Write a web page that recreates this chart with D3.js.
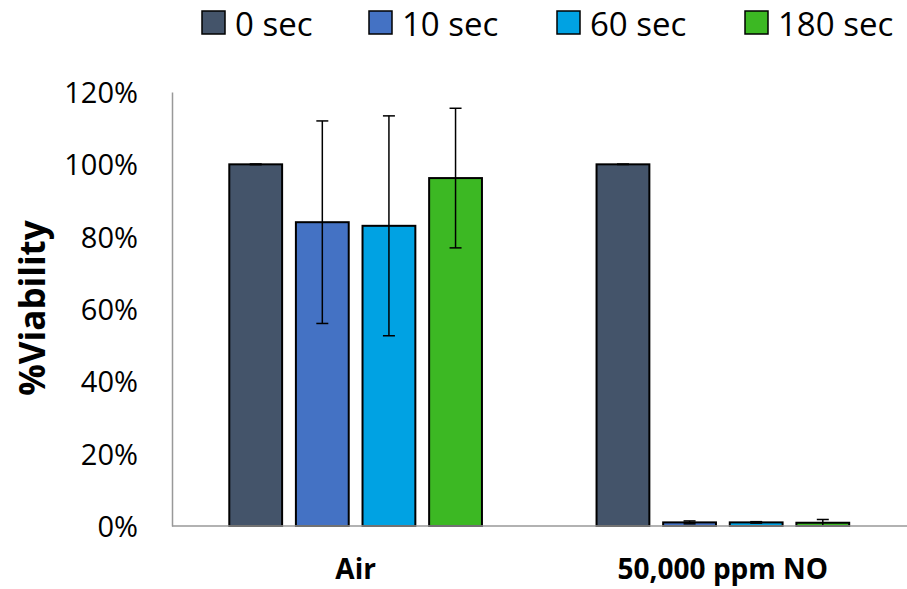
<!DOCTYPE html>
<html>
<head>
<meta charset="utf-8">
<script src="https://cdn.jsdelivr.net/npm/d3@7"></script>
<style>
  body { margin: 0; background: #fff; }
  svg text { font-family: "Open Sans", "Noto Sans", sans-serif; fill: #000; }
</style>
</head>
<body>
<svg id="main_svg"></svg>
<script>
const WIDTH = 907;
const HEIGHT = 589;

const categories = ['Air', '50,000 ppm NO'];
const series = ['0 sec', '10 sec', '60 sec', '180 sec'];
const colors = ['#44546A', '#4472C4', '#00A2E3', '#3CB823'];
// mean viability (%) per series, one entry per category
const means = [
	[100, 100],
	[84, 1.0],
	[83, 1.0],
	[96.2, 0.9]
];
const errors = [
	[0.1, 0.05],
	[28, 0.4],
	[30.4, 0.2],
	[19.3, 0.9]
];
const y_ticks = [0, 20, 40, 60, 80, 100, 120];

const margin = {left: 172, right: 0, top: 92, bottom: 63};

const svg = d3.select('#main_svg').attr('width', WIDTH).attr('height', HEIGHT);

const x_scale = d3.scaleBand()
	.domain(categories)
	.range([margin.left, WIDTH - 0.5])
	.paddingInner(0)
	.paddingOuter(0);

const x_inner = d3.scaleBand()
	.domain(series)
	.range([0, x_scale.bandwidth()])
	.paddingInner(0.207)
	.paddingOuter(0.86);

const y_scale = d3.scaleLinear()
	.domain([0, 120])
	.range([HEIGHT - margin.bottom, margin.top]);

// y axis
const y_axis = svg.append('g')
	.attr('transform', `translate(${margin.left},0)`)
	.call(d3.axisLeft(y_scale).tickValues(y_ticks).tickSize(0).tickPadding(34).tickFormat(d => d + '%'));
y_axis.select('.domain').attr('stroke', '#999').attr('stroke-width', 1.5);
y_axis.selectAll('text').attr('font-size', '29px').attr('dy', '0.36em').style('font-family', '"Open Sans", sans-serif');

// bars
series.forEach((s, si) => {
	const g = svg.append('g');
	const data = categories.map((c, ci) => ({c, v: means[si][ci], e: errors[si][ci]}));
	g.selectAll('rect')
		.data(data)
		.enter()
		.append('rect')
		.attr('x', d => x_scale(d.c) + x_inner(s))
		.attr('y', d => y_scale(d.v))
		.attr('width', x_inner.bandwidth())
		.attr('height', d => y_scale(0) - y_scale(d.v))
		.attr('fill', colors[si])
		.attr('stroke', '#000')
		.attr('stroke-width', 2);

	// error bars
	const cx = d => x_scale(d.c) + x_inner(s) + x_inner.bandwidth() / 2;
	g.selectAll('.err')
		.data(data)
		.enter()
		.append('line')
		.attr('class', 'err')
		.attr('x1', cx).attr('x2', cx)
		.attr('y1', d => y_scale(d.v + d.e))
		.attr('y2', d => y_scale(d.v - d.e))
		.attr('stroke', '#000').attr('stroke-width', 1.5);
	['+', '-'].forEach(sign => {
		g.selectAll('.cap' + (sign === '+' ? 'u' : 'd'))
			.data(data)
			.enter()
			.append('line')
			.attr('x1', d => cx(d) - 6).attr('x2', d => cx(d) + 6)
			.attr('y1', d => y_scale(sign === '+' ? d.v + d.e : d.v - d.e))
			.attr('y2', d => y_scale(sign === '+' ? d.v + d.e : d.v - d.e))
			.attr('stroke', '#000').attr('stroke-width', 1.5);
	});
});

// x axis baseline
svg.append('line')
	.attr('x1', margin.left).attr('x2', WIDTH)
	.attr('y1', y_scale(0)).attr('y2', y_scale(0))
	.attr('stroke', '#999').attr('stroke-width', 1.5);

// category labels
svg.selectAll('.cat')
	.data(categories)
	.enter()
	.append('text')
	.attr('class', 'cat')
	.attr('x', d => x_scale(d) + x_scale.bandwidth() / 2)
	.attr('y', 579)
	.attr('text-anchor', 'middle')
	.attr('font-size', '28px')
	.attr('font-weight', 'bold')
	.text(d => d);

// y title
svg.append('text')
	.attr('transform', `translate(45, 308) rotate(-90)`)
	.attr('text-anchor', 'middle')
	.attr('font-size', '35px')
	.attr('font-weight', 'bold')
	.text('%Viability');

// legend
const legend_x = [202, 369, 557, 745];
const legend = svg.selectAll('.leg')
	.data(series)
	.enter()
	.append('g')
	.attr('transform', (d, i) => `translate(${legend_x[i]}, 11)`);
legend.append('rect')
	.attr('width', 23).attr('height', 23)
	.attr('fill', (d, i) => colors[i])
	.attr('stroke', '#000').attr('stroke-width', 1.5);
legend.append('text')
	.attr('x', 33).attr('y', 25)
	.attr('font-size', '33px')
	.text(d => d);
</script>
</body>
</html>
